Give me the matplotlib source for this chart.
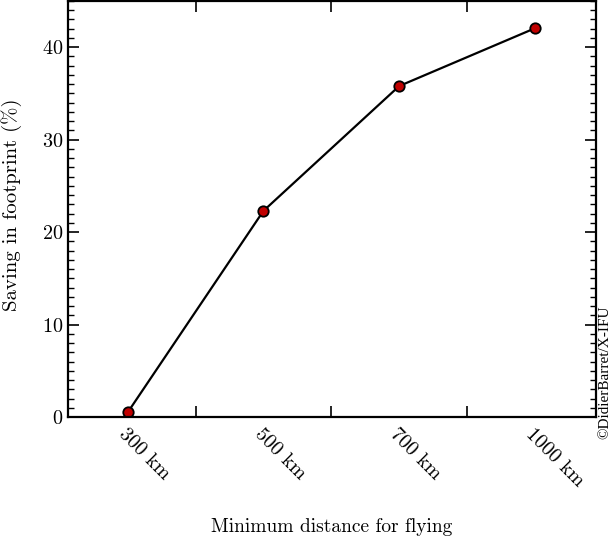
import matplotlib
matplotlib.use("Agg")
import matplotlib.pyplot as plt
from matplotlib.ticker import MultipleLocator, FixedLocator, NullFormatter

plt.rcParams["font.family"] = "cmr10"
plt.rcParams["mathtext.fontset"] = "cm"
plt.rcParams["axes.formatter.use_mathtext"] = True

distances = ["300 km", "500 km", "700 km", "1000 km"]
saving = [0.5, 22.3, 35.8, 42.05]

fig = plt.figure(figsize=(6.14, 5.41), dpi=100)
ax = fig.add_axes([68 / 614, (541 - 417) / 541, (596 - 68) / 614, 416 / 541])

x = list(range(len(distances)))
ax.plot(x, saving, color="black", lw=1.6, marker="o", ms=7.5,
        mfc="#c00000", mec="black", mew=1.3)

ax.set_xlim(-0.44, 3.45)
ax.set_ylim(0, 45)

# labels sit at the points, tick marks between them
ax.xaxis.set_major_locator(FixedLocator([0.5, 1.5, 2.5]))
ax.xaxis.set_major_formatter(NullFormatter())
ax.xaxis.set_minor_locator(FixedLocator(x))
ax.set_xticklabels(distances, minor=True, rotation=-45, ha="left",
                   va="top", rotation_mode="anchor", fontsize=14.5)
ax.tick_params(axis="x", which="minor", length=0, pad=6)

ax.yaxis.set_major_locator(MultipleLocator(10))
ax.yaxis.set_minor_locator(MultipleLocator(1))
ax.tick_params(axis="both", which="major", direction="in", length=8,
               width=1.2, top=True, right=True, labelsize=14.5)
ax.tick_params(axis="y", which="minor", direction="in", length=4,
               width=1.0, right=True)
for s in ax.spines.values():
    s.set_linewidth(1.6)

ax.set_xlabel("Minimum distance for flying", fontsize=14, va="center")
ax.xaxis.set_label_coords(0.5, -0.264)
ax.set_ylabel("Saving in footprint (%)", fontsize=15, va="center")
ax.yaxis.set_label_coords(-0.106, 0.51)

fig.text(0.985, 0.312, "©DidierBarret/X-IFU", rotation=90, fontsize=11,
         ha="center", va="center", family="Liberation Serif")

fig.savefig("out.png", dpi=100)
